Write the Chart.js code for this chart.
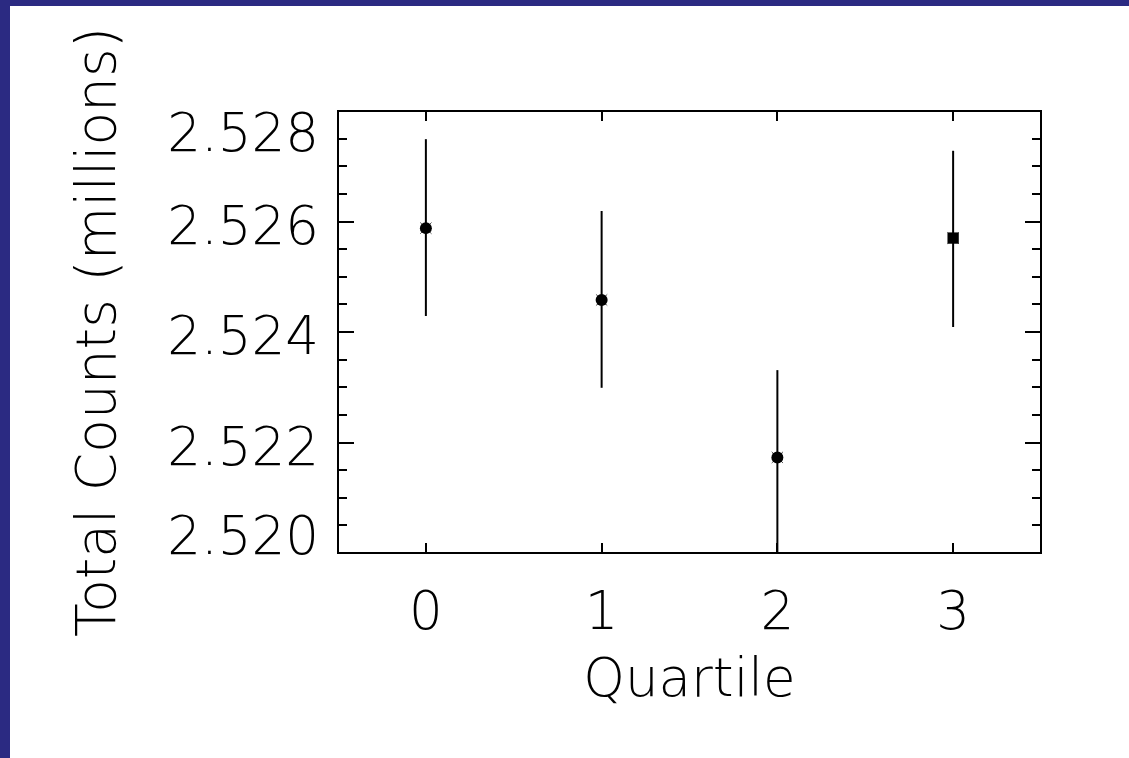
<!DOCTYPE html>
<html>
<head>
<meta charset="utf-8">
<script src="https://cdn.jsdelivr.net/npm/chart.js@4.4.1/dist/chart.umd.min.js"></script>
<style>
  html, body { margin: 0; padding: 0; }
  body { width: 1129px; height: 758px; background: #2b2a82; overflow: hidden; position: relative; }
  #frame { position: absolute; left: 10px; top: 6px; width: 1119px; height: 752px; background: #fff; }
  #chart { display: block; width: 1119px; height: 752px; }
</style>
</head>
<body>
<div id="frame"><canvas id="chart" width="1119" height="752"></canvas></div>
<script>
// data (millions of counts per quartile, with error bar ends)
const quartiles = [0, 1, 2, 3];
const totalCounts = [2.52588, 2.52458, 2.52173, 2.52570];
const errLow = [2.52429, 2.52299, 2.52000, 2.52409];
const errHigh = [2.52749, 2.52619, 2.52331, 2.52728];
const markerStyles = ['circle', 'circle', 'circle', 'rect'];
const markerSizes = [6, 6, 6, 8];

const xTicks = [0, 1, 2, 3];
const yTicks = [2.520, 2.522, 2.524, 2.526, 2.528];
const yMinorStep = 0.0005;

const FONT = '"DejaVu Sans", sans-serif';
const FONT_SIZE = 53;
const FONT_WEIGHT = 200;

// box around the plot, inward ticks and the y labels (kept inside the box like the original)
const frameBox = {
  id: 'frameBox',
  afterDraw(chart) {
    const { ctx, chartArea: a, scales: { x, y } } = chart;
    ctx.save();
    ctx.strokeStyle = '#000';
    ctx.lineWidth = 2;
    ctx.strokeRect(a.left, a.top, a.right - a.left, a.bottom - a.top);

    ctx.beginPath();
    xTicks.forEach(v => {
      const px = Math.round(x.getPixelForValue(v));
      ctx.moveTo(px, a.bottom); ctx.lineTo(px, a.bottom - 10);
      ctx.moveTo(px, a.top); ctx.lineTo(px, a.top + 10);
    });
    const steps = Math.round((y.max - y.min) / yMinorStep);
    for (let i = 0; i <= steps; i++) {
      const v = y.min + i * yMinorStep;
      const py = Math.round(y.getPixelForValue(v));
      const major = yTicks.some(t => Math.abs(t - v) < 1e-7);
      const len = major ? 16 : 9;
      ctx.moveTo(a.left, py); ctx.lineTo(a.left + len, py);
      ctx.moveTo(a.right, py); ctx.lineTo(a.right - len, py);
    }
    ctx.stroke();

    ctx.fillStyle = '#000';
    ctx.font = `${FONT_WEIGHT} ${FONT_SIZE}px ${FONT}`;
    ctx.textAlign = 'right';
    ctx.textBaseline = 'alphabetic';
    yTicks.forEach(v => {
      const py = y.getPixelForValue(v);
      const base = Math.min(Math.max(py + 22, a.top + 40), a.bottom + 1);
      ctx.fillText(v.toFixed(3), a.left - 19, base);
    });
    ctx.restore();
  }
};

const errorBars = quartiles.map((q, i) => ({
  type: 'line',
  data: [{ x: q, y: errLow[i] }, { x: q, y: errHigh[i] }],
  borderColor: '#000',
  borderWidth: 2,
  pointRadius: 0,
  showLine: true,
  clip: false
}));

const points = quartiles.map((q, i) => ({ x: q, y: totalCounts[i] }));

Chart.defaults.font.family = FONT;
Chart.defaults.font.weight = FONT_WEIGHT;
Chart.defaults.color = '#000';

new Chart(document.getElementById('chart'), {
  type: 'scatter',
  data: {
    datasets: [
      ...errorBars,
      {
        data: points,
        pointStyle: markerStyles,
        pointRadius: markerSizes,
        backgroundColor: '#000',
        borderColor: '#000',
        borderWidth: 0
      },
      {
        data: points,
        pointStyle: 'crossRot',
        pointRadius: 8,
        borderColor: '#555',
        borderWidth: 1
      }
    ]
  },
  options: {
    responsive: false,
    animation: false,
    layout: { padding: { top: 105, right: 88, left: 0, bottom: 0 } },
    plugins: { legend: { display: false }, tooltip: { enabled: false } },
    scales: {
      x: {
        type: 'linear',
        min: -0.5,
        max: 3.5,
        afterBuildTicks: s => { s.ticks = xTicks.map(v => ({ value: v })); },
        afterFit: s => { s.height = 205; },
        grid: { display: false, drawTicks: false },
        border: { display: false },
        ticks: { padding: 30, font: { size: FONT_SIZE }, callback: v => String(v) },
        title: {
          display: true,
          text: 'Quartile',
          font: { size: FONT_SIZE },
          padding: { top: 0, bottom: 44 }
        }
      },
      y: {
        type: 'linear',
        min: 2.520,
        max: 2.528,
        afterFit: s => { s.width = 328; },
        grid: { display: false, drawTicks: false },
        border: { display: false },
        ticks: { display: false },
        title: {
          display: true,
          text: 'Total Counts (millions)',
          font: { size: 55 },
          padding: { top: 58, bottom: 0 }
        }
      }
    }
  },
  plugins: [frameBox]
});
</script>
</body>
</html>
